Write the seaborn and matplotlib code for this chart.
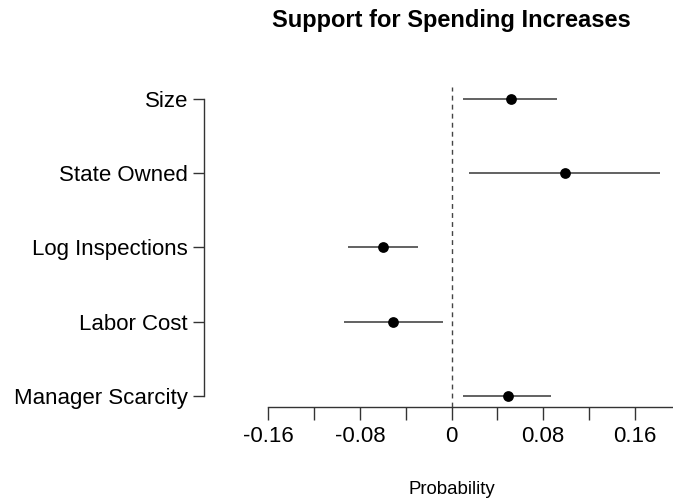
import matplotlib
matplotlib.use("Agg")
import matplotlib.pyplot as plt
import seaborn as sns
import pandas as pd
import numpy as np

categories = ["Size", "State Owned", "Log Inspections", "Labor Cost", "Manager Scarcity"]
estimates = [0.052, 0.099, -0.060, -0.051, 0.049]
lower = [0.010, 0.015, -0.090, -0.094, 0.010]
upper = [0.092, 0.182, -0.029, -0.007, 0.087]
xticks_all = [-0.16, -0.12, -0.08, -0.04, 0.0, 0.04, 0.08, 0.12, 0.16, 0.20]
xtick_labels = ["-0.16", "", "-0.08", "", "0", "", "0.08", "", "0.16", ""]

sns.set_theme(style="white")
plt.rcParams['font.family'] = ['Liberation Sans', 'DejaVu Sans']
plt.rcParams['text.color'] = 'black'
plt.rcParams['xtick.labelcolor'] = 'black'
plt.rcParams['ytick.labelcolor'] = 'black'

n = len(categories)
df = pd.DataFrame({
    "term": categories,
    "est": estimates,
    "lo": lower,
    "hi": upper,
    "pos": list(range(n, 0, -1)),
})

W, H = 673, 504
fig = plt.figure(figsize=(W / 100, H / 100), dpi=100)
left_px, right_px, top_px, bottom_px = 204, 699, 87, 407
ax = fig.add_axes([left_px / W, 1 - bottom_px / H, (right_px - left_px) / W, (bottom_px - top_px) / H])
ax.set_facecolor("white")

ax.hlines(df["pos"], df["lo"], df["hi"], color="#555555", lw=1.3, zorder=2)
sns.scatterplot(data=df, x="est", y="pos", ax=ax, color="black", s=60,
                edgecolor="black", linewidth=0, zorder=3, legend=False)
ax.axvline(0, color="#444444", lw=1.0, linestyle=(0, (3.5, 3)), zorder=1)

ax.set_xlim(-0.216, 0.216)
ax.set_ylim(0.85, 5.16)

for s in ["top", "right"]:
    ax.spines[s].set_visible(False)
ax.spines["left"].set_bounds(1, n)
ax.spines["bottom"].set_bounds(-0.16, 0.20)
for s in ["left", "bottom"]:
    ax.spines[s].set_color("#333333")
    ax.spines[s].set_linewidth(1.0)

ax.set_xticks(xticks_all)
ax.set_xticklabels(xtick_labels)
ax.set_yticks(df["pos"])
ax.set_yticklabels(df["term"])
ax.tick_params(axis="x", direction="out", length=9, width=1.0, color="#333333",
               labelsize=16, pad=5, bottom=True, labelcolor="black")
ax.tick_params(axis="y", direction="out", length=8, width=1.0, color="#333333",
               labelsize=16, pad=3.5, left=True, labelcolor="black")
ax.set_xlabel("")
ax.set_ylabel("")

fig.text(451.5 / W, 1 - 20 / H, "Support for Spending Increases", ha="center", va="center",
         fontsize=17, fontweight="bold", color="black")
fig.text(451.5 / W, 1 - 489 / H, "Probability", ha="center", va="center", fontsize=13.4,
         color="black")

fig.savefig("out.png", dpi=100)
